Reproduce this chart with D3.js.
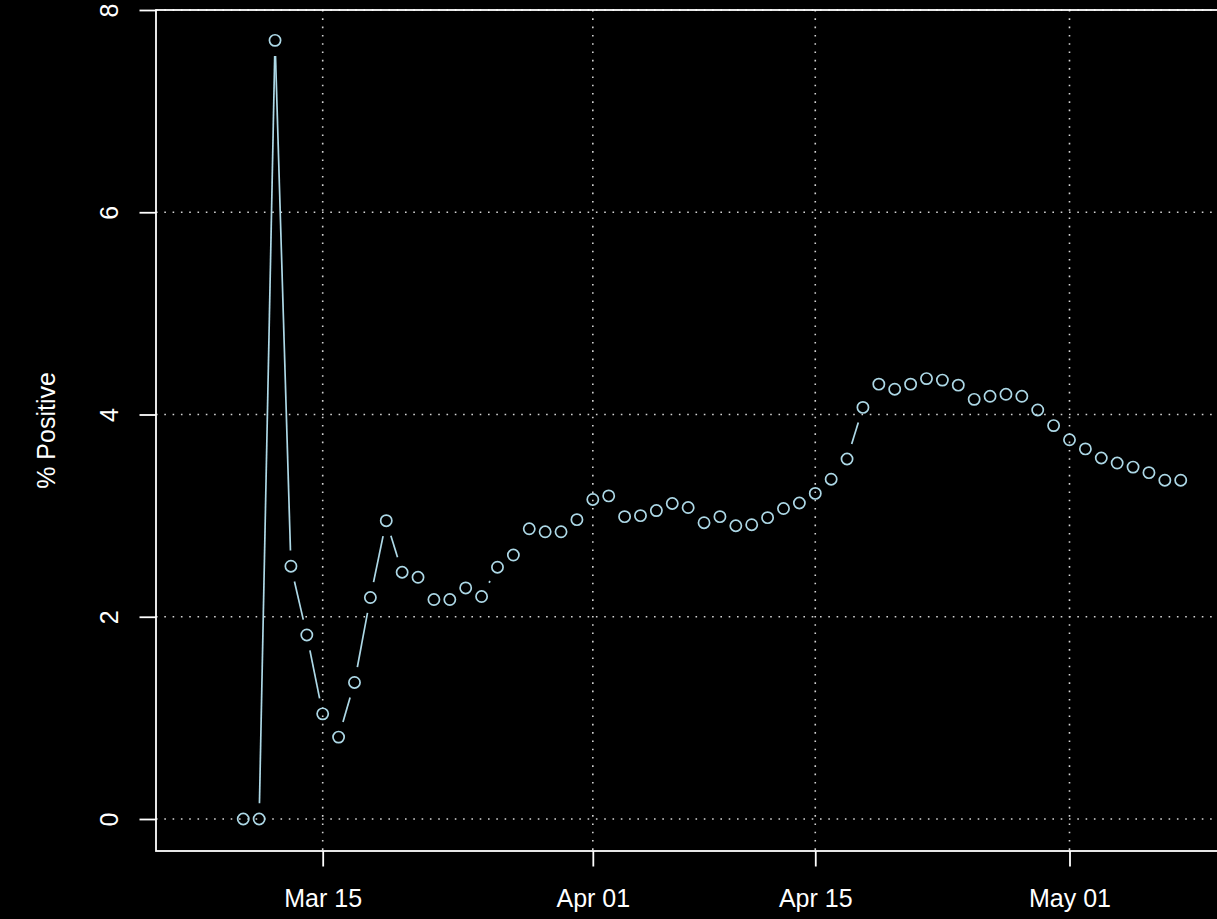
<!DOCTYPE html>
<html>
<head>
<meta charset="utf-8">
<script src="https://cdn.jsdelivr.net/npm/d3@7"></script>
<style>
  html, body { margin: 0; padding: 0; background: #000; }
  svg { display: block; }
  text { font-family: "Liberation Sans", Arial, Helvetica, sans-serif; fill: #fff; }
</style>
</head>
<body>
<svg id="chart" width="1217" height="919"></svg>
<script>
// ---- data ----
const startDate = "2020-03-10";
const pctPositive = [
  0.00, 0.00, 7.70, 2.50, 1.82, 1.04, 0.81, 1.35, 2.19, 2.95,
  2.44, 2.39, 2.17, 2.17, 2.285, 2.20, 2.49, 2.61, 2.87, 2.84,
  2.84, 2.96,
  3.16, 3.195, 2.99, 3.00, 3.05, 3.12, 3.08, 2.93, 2.99, 2.90,
  2.91, 2.98, 3.07, 3.125, 3.22, 3.36, 3.56, 4.07, 4.30, 4.25,
  4.30, 4.355, 4.34, 4.29, 4.15, 4.18, 4.20, 4.18, 4.045, 3.89,
  3.75, 3.66, 3.57, 3.52, 3.48, 3.425, 3.35, 3.35
];
const xTickDates = ["2020-03-15", "2020-04-01", "2020-04-15", "2020-05-01"];
const xTickLabels = ["Mar 15", "Apr 01", "Apr 15", "May 01"];
const yTicks = [0, 2, 4, 6, 8];
const yLabel = "% Positive";

// ---- build ----
const parse = d3.utcParse("%Y-%m-%d");
const t0 = parse(startDate);
const data = pctPositive.map((v, i) => ({ date: d3.utcDay.offset(t0, i), value: v }));

const svg = d3.select("#chart");
const W = 1217, H = 919;
svg.append("rect").attr("width", W).attr("height", H).attr("fill", "#000");

const box = { left: 156, top: 10, right: 1240, bottom: 851 };

const x = d3.scaleUtc()
  .domain([parse("2020-03-15"), parse("2020-05-01")])
  .range([322.7, 1069.5]);
const y = d3.scaleLinear().domain([0, 8]).range([819, 10]);

const fontSize = 25;
const gridColor = "#d3d3d3";
const lineColor = "#add8e6";

// grid (dotted)
const grid = svg.append("g");
grid.selectAll("line.gx").data(xTickDates.map(parse)).enter().append("line")
  .attr("x1", d => x(d)).attr("x2", d => x(d))
  .attr("y1", box.top).attr("y2", box.bottom)
  .attr("stroke", gridColor).attr("stroke-width", 1.6)
  .attr("stroke-dasharray", "1.6,6.7");
grid.selectAll("line.gy").data(yTicks).enter().append("line")
  .attr("x1", box.left).attr("x2", W)
  .attr("y1", d => y(d)).attr("y2", d => y(d))
  .attr("stroke", gridColor).attr("stroke-width", 1.6)
  .attr("stroke-dasharray", "1.6,6.7");

// series: line segments with gaps (R type="b")
const gap = 15.7;
const pts = data.map(d => [x(d.date), y(d.value)]);
const segs = [];
for (let i = 0; i < pts.length - 1; i++) {
  const [x1, y1] = pts[i], [x2, y2] = pts[i + 1];
  const dx = x2 - x1, dy = y2 - y1, len = Math.hypot(dx, dy);
  if (len > 2 * gap) {
    const ux = dx / len, uy = dy / len;
    segs.push([x1 + ux * gap, y1 + uy * gap, x2 - ux * gap, y2 - uy * gap]);
  }
}
svg.append("g").selectAll("line").data(segs).enter().append("line")
  .attr("x1", d => d[0]).attr("y1", d => d[1])
  .attr("x2", d => d[2]).attr("y2", d => d[3])
  .attr("stroke", lineColor).attr("stroke-width", 1.7);

svg.append("g").selectAll("circle").data(data).enter().append("circle")
  .attr("cx", d => x(d.date)).attr("cy", d => y(d.value))
  .attr("r", 5.6)
  .attr("fill", "none").attr("stroke", lineColor).attr("stroke-width", 1.7);

// axes
const xAxis = d3.axisBottom(x)
  .tickValues(xTickDates.map(parse))
  .tickFormat((d, i) => xTickLabels[i])
  .tickSize(15.5).tickSizeOuter(0);
const gx = svg.append("g").attr("transform", `translate(0,${box.bottom})`).call(xAxis);
gx.select(".domain").remove();
gx.selectAll(".tick line").attr("stroke", "#fff").attr("stroke-width", 1.8);
gx.selectAll(".tick text")
  .attr("fill", "#fff").attr("font-size", fontSize)
  .attr("font-family", "Liberation Sans, Arial, sans-serif")
  .attr("y", 55.5).attr("dy", null);

const yAxis = d3.axisLeft(y).tickValues(yTicks).tickFormat(d3.format("d"))
  .tickSize(16.5).tickSizeOuter(0);
const gy = svg.append("g").attr("transform", `translate(${box.left},0)`).call(yAxis);
gy.select(".domain").remove();
gy.selectAll(".tick line").attr("stroke", "#fff").attr("stroke-width", 1.8);
gy.selectAll(".tick text")
  .attr("fill", "#fff").attr("font-size", fontSize)
  .attr("font-family", "Liberation Sans, Arial, sans-serif")
  .attr("x", null).attr("dy", null)
  .attr("text-anchor", "middle")
  .attr("transform", "translate(-38.5,0) rotate(-90)");

// frame (left, top, bottom; right side beyond canvas)
svg.append("rect")
  .attr("x", box.left).attr("y", box.top)
  .attr("width", box.right - box.left).attr("height", box.bottom - box.top)
  .attr("fill", "none").attr("stroke", "#fff").attr("stroke-width", 1.8);

// y label
svg.append("text")
  .attr("transform", `translate(55,${(box.top + box.bottom) / 2}) rotate(-90)`)
  .attr("text-anchor", "middle")
  .attr("font-size", fontSize)
  .text(yLabel);
</script>
</body>
</html>
